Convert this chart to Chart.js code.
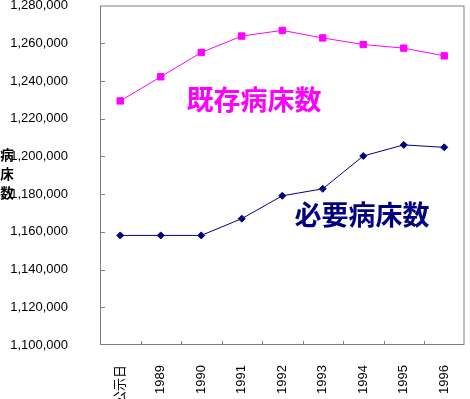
<!DOCTYPE html>
<html>
<head>
<meta charset="utf-8">
<script src="https://cdn.jsdelivr.net/npm/chart.js@4"></script>
<style>
html,body{margin:0;padding:0;background:#fff;}
#wrap{position:relative;width:470px;height:399px;}
</style>
</head>
<body>
<div id="wrap"><canvas id="c" width="470" height="399"></canvas></div>
<script>
const categories = ['公示日', '1989', '1990', '1991', '1992', '1993', '1994', '1995', '1996'];
const existingBeds = [1229400, 1242200, 1255100, 1263800, 1266800, 1262800, 1259300, 1257400, 1253300];
const requiredBeds = [1158100, 1158100, 1158100, 1167000, 1179100, 1182800, 1200200, 1206100, 1204800];
const yMin = 1100000, yMax = 1280000, yStep = 20000;
const seriesNames = ['既存病床数', '必要病床数'];
const yTitleChars = ['病', '床', '数'];

const frame = {
  id: 'frame',
  afterDatasetsDraw(chart) {
    const {ctx, chartArea: a, scales} = chart;
    ctx.save();
    ctx.strokeStyle = '#808080';
    ctx.lineWidth = 1;
    ctx.strokeRect(a.left + 0.5, a.top + 0.5, a.right - a.left - 1, a.bottom - a.top - 1);
    ctx.beginPath();
    const y = scales.y;
    y.ticks.forEach((t, i) => {
      const py = Math.round(y.getPixelForTick(i)) + 0.5;
      if (py > a.top + 2 && py < a.bottom - 2) {
        ctx.moveTo(a.left, py); ctx.lineTo(a.left + 5, py);
      }
    });
    const x = scales.x;
    for (let i = 1; i < categories.length; i++) {
      const px = Math.round((x.getPixelForValue(i - 1) + x.getPixelForValue(i)) / 2) + 0.5;
      ctx.moveTo(px, a.bottom); ctx.lineTo(px, a.bottom - 4);
    }
    ctx.stroke();
    // annotations
    ctx.textAlign = 'center';
    ctx.textBaseline = 'middle';
    ctx.font = 'bold 27px "Noto Sans CJK JP"';
    ctx.fillStyle = '#FF00FF';
    ctx.fillText(seriesNames[0], 254, 100);
    ctx.fillStyle = '#000080';
    ctx.fillText(seriesNames[1], 362, 215);
    ctx.fillStyle = '#000000';
    ctx.font = 'bold 13.5px "Noto Sans CJK JP"';
    yTitleChars.forEach((ch, i) => ctx.fillText(ch, 7, 155 + i * 19));
    ctx.restore();
  }
};

new Chart(document.getElementById('c'), {
  type: 'line',
  data: {
    labels: categories,
    datasets: [
      {
        label: seriesNames[0],
        data: existingBeds,
        borderColor: '#FF00FF',
        backgroundColor: '#FF00FF',
        borderWidth: 1,
        pointStyle: 'rect',
        pointRadius: 4.5,
        pointBorderWidth: 1,
        tension: 0
      },
      {
        label: seriesNames[1],
        data: requiredBeds,
        borderColor: '#000080',
        backgroundColor: '#000080',
        borderWidth: 1,
        pointStyle: 'rectRot',
        pointRadius: 3.5,
        pointBorderWidth: 1,
        tension: 0
      }
    ]
  },
  options: {
    responsive: false,
    devicePixelRatio: 1,
    animation: false,
    layout: {padding: {top: 3, right: 2, left: 0, bottom: 0}},
    plugins: {legend: {display: false}, tooltip: {enabled: false}},
    scales: {
      x: {
        offset: true,
        grid: {display: false, offset: true},
        border: {display: false},
        ticks: {
          autoSkip: false, minRotation: 90, maxRotation: 90, padding: 12,
          color: '#000', font: {family: '"Liberation Sans", "Noto Sans CJK JP"', size: 13}
        },
        afterFit(s) { s.height = 54; s.paddingLeft = 0; s.paddingRight = 0; }
      },
      y: {
        min: yMin, max: yMax,
        grid: {display: false},
        border: {display: false},
        ticks: {
          stepSize: yStep, padding: 24, color: '#000',
          font: {family: '"Liberation Sans"', size: 13},
          callback: v => Number(v).toLocaleString('en-US')
        },
        afterFit(s) { s.width = 100; s.paddingTop = 0; s.paddingBottom = 0; }
      }
    }
  },
  plugins: [frame]
});
</script>
</body>
</html>
